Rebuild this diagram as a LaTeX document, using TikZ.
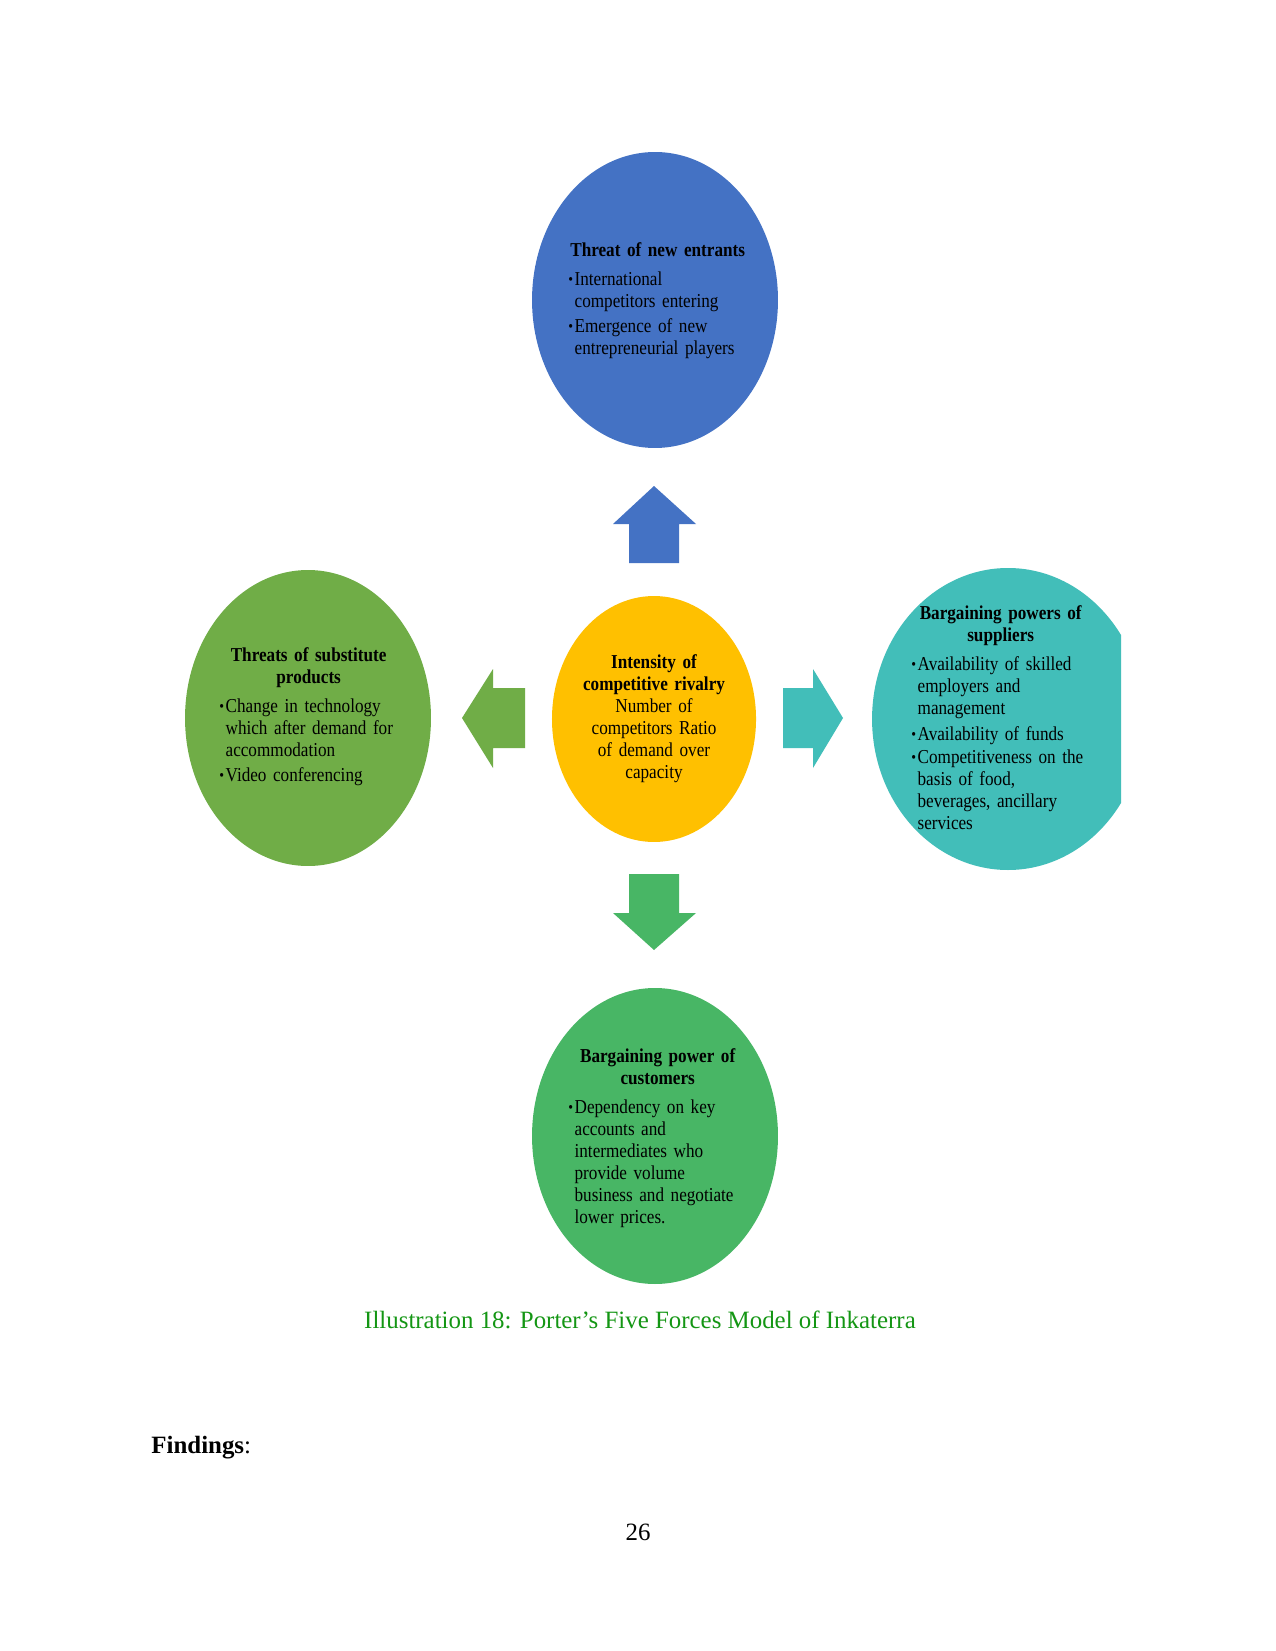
\documentclass[tikz,border=0pt]{standalone}
\usepackage{fontspec}
\setmainfont{Liberation Serif}
\newfontfamily\forcefont[FakeStretch=0.87, WordSpace=0.75]{Liberation Serif}
\usetikzlibrary{shapes.geometric}

\definecolor{entrantblue}{RGB}{68,114,196}
\definecolor{substgreen}{RGB}{112,173,71}
\definecolor{supplyteal}{RGB}{66,190,185}
\definecolor{rivalyellow}{RGB}{255,192,0}
\definecolor{buyergreen}{RGB}{72,182,101}
\definecolor{capgreen}{RGB}{20,150,20}

\setlength{\parindent}{0pt}
\newlength{\itemhang}
\setlength{\itemhang}{3pt}
\newcommand{\forcehead}[1]{{\centering\bfseries #1\par}\vspace{2.8pt}}
\newcommand{\forceitem}[1]{\par\vspace{0.6pt}\noindent
  \makebox[\itemhang][l]{\raisebox{0.1ex}{\fontsize{7.5}{7.5}\selectfont\textbullet}}%
  \parbox[t]{\dimexpr\linewidth-\itemhang\relax}{\raggedright\strut #1\strut}\par}

\begin{document}
\begin{tikzpicture}[x=0.4818pt, y=-0.4818pt,
  force/.style={ellipse, inner sep=0pt, minimum width=118.5pt, minimum height=142.6pt},
  forcetext/.style={anchor=west, text width=86pt, align=left, inner sep=0pt,
    font=\forcefont\fontsize{9.5}{10.6}\selectfont},
  pagetext/.style={font=\fontsize{12}{14}\selectfont, inner sep=0pt}]
  % Page frame
  \useasboundingbox (0,0) rectangle (1275,1651);
  \fill[white] (0,0) rectangle (1275,1651);
  % Five forces
  \node[force, fill=entrantblue] (entrants) at (655,300) {};
  \node[force, fill=substgreen] (substitutes) at (308,718) {};
  \begin{scope}
    \clip (0,0) rectangle (1121,1651);
    \node[force, fill=supplyteal, minimum width=131pt, minimum height=145.5pt] (suppliers) at (1008,719) {};
  \end{scope}
  \node[force, fill=rivalyellow, minimum width=98.3pt, minimum height=118.5pt] (rivalry) at (654,719) {};
  \node[force, fill=buyergreen] (buyers) at (655,1136) {};
  % Block arrows out of the centre
  \fill[entrantblue] (629,563) -- (629,524) -- (613,524) -- (654,486) -- (696,524) -- (679,524) -- (679,563) -- cycle;
  \fill[substgreen] (525,688) -- (493,688) -- (493,669) -- (462,718) -- (493,768) -- (493,748) -- (525,748) -- cycle;
  \fill[supplyteal] (783,688) -- (813,688) -- (813,669) -- (843,718) -- (813,768) -- (813,748) -- (783,748) -- cycle;
  \fill[buyergreen] (629,874) -- (629,913) -- (613,913) -- (654,950) -- (696,913) -- (679,913) -- (679,874) -- cycle;
  % Texts
  \node[forcetext] (entrantsText) at (568,302) {\forcehead{Threat of new entrants}
    \forceitem{International\\competitors entering}
    \forceitem{Emergence of new\\entrepreneurial players}};
  \node[forcetext] (substitutesText) at (219,718) {\forcehead{Threats of substitute\\products}
    \forceitem{Change in technology\\which after demand for\\accommodation}
    \forceitem{Video conferencing}};
  \node[forcetext] (suppliersText) at (911,721) {\forcehead{Bargaining powers of\\suppliers}
    \forceitem{Availability of skilled\\employers and\\management}
    \forceitem{Availability of funds}
    \forceitem{Competitiveness on the\\basis of food,\\beverages, ancillary\\services}};
  \node[text width=90pt, align=center, inner sep=0pt, font=\forcefont\fontsize{9.5}{10.6}\selectfont] (rivalryText) at (654,719)
    {\textbf{Intensity of\\competitive rivalry}\\Number of\\competitors Ratio\\of demand over\\capacity};
  \node[forcetext] (buyersText) at (568,1139) {\forcehead{Bargaining power of\\customers}
    \forceitem{Dependency on key\\accounts and\\intermediates who\\provide volume\\business and negotiate\\lower prices.}};
  % Caption and page
  \node[pagetext, anchor=base, text=capgreen] (caption) at (640,1328) {Illustration 18: Porter’s Five Forces Model of Inkaterra};
  \node[pagetext, anchor=base west] (findings) at (151,1453) {\textbf{Findings}:};
  \node[pagetext, anchor=base] (pagenum) at (638,1540) {26};
\end{tikzpicture}
\end{document}
